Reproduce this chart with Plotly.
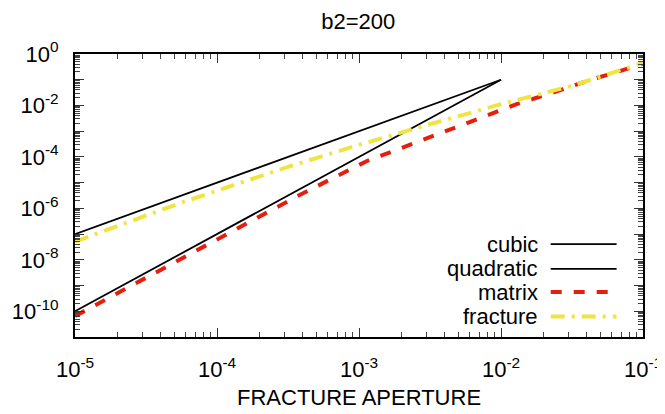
import plotly.graph_objects as go

# log-log curves, b2=200
cubic_x = [1e-5, 1e-2]
cubic_y = [1e-7, 1e-1]

quad_x = [1e-5, 1e-2]
quad_y = [1e-10, 1e-1]

matrix_x = [1e-5, 5.96e-5, 3.85e-4, 1.13e-3, 3.93e-3, 8.83e-3, 1.29e-2, 2.75e-2, 4.24e-2, 6.18e-2, 1e-1]
matrix_y = [6.5e-11, 1.38e-8, 3.4e-6, 6.8e-5, 9.3e-4, 5.2e-3, 1.12e-2, 4.3e-2, 9.8e-2, 1.8e-1, 4.2e-1]

fracture_x = [1e-5, 5.6e-5, 3.2e-4, 1e-3, 3.2e-3, 1e-2, 3.2e-2, 1e-1]
fracture_y = [5.1e-8, 1.66e-6, 4.2e-5, 2.95e-4, 1.9e-3, 1.12e-2, 5.9e-2, 4.5e-1]

x_ticks = [1e-5, 1e-4, 1e-3, 1e-2, 1e-1]
x_labels = ["10<sup>-5</sup>", "10<sup>-4</sup>", "10<sup>-3</sup>", "10<sup>-2</sup>", "10<sup>-1</sup>"]
y_ticks = [10.0**-k for k in range(0, 12)]
y_labels = ["10<sup>%d</sup>" % -k if k % 2 == 0 else "" for k in range(0, 12)]
y_labels[0] = "10<sup>0</sup>"

RED = "#e51e10"
YEL = "#f0e442"
FONT = "Liberation Sans, Arial, Helvetica, sans-serif"

series = [
    ("cubic", cubic_x, cubic_y, dict(color="black", width=1.8)),
    ("quadratic", quad_x, quad_y, dict(color="black", width=1.8)),
    ("matrix", matrix_x, matrix_y, dict(color=RED, width=4, dash="11px,12px")),
    ("fracture", fracture_x, fracture_y, dict(color=YEL, width=4, dash="14px,7px,3px,7px")),
]

fig = go.Figure()
for name, xs, ys, ln in series:
    fig.add_trace(go.Scatter(x=xs, y=ys, mode="lines", name=name, line=ln, showlegend=False))

# gnuplot style key: text on the left, sample line on the right
key_y = [0.328, 0.241, 0.159, 0.072]
for (name, xs, ys, ln), ky in zip(series, key_y):
    fig.add_annotation(x=0.8187, y=ky, xref="paper", yref="paper", text=name,
                       showarrow=False, xanchor="right", yanchor="middle",
                       font=dict(size=22, color="black", family=FONT))
    fig.add_shape(type="line", xref="paper", yref="paper", x0=0.8375, x1=0.9535,
                  y0=ky, y1=ky, line=ln)

fig.add_annotation(x=0.5, y=-0.215, xref="paper", yref="paper", text="FRACTURE APERTURE",
                   showarrow=False, xanchor="center", yanchor="middle",
                   font=dict(size=22, color="black", family=FONT))

axis_common = dict(
    type="log", showgrid=False, zeroline=False, showline=True, linecolor="black",
    linewidth=2, mirror="allticks", ticks="inside", ticklen=9, tickwidth=1,
    tickcolor="#333333", tickfont=dict(size=22, color="black", family=FONT),
    minor=dict(ticks="inside", ticklen=5, tickcolor="#444444", dtick="D1", showgrid=False),
    automargin=False,
)

fig.update_xaxes(range=[-5, -1], tickvals=x_ticks, ticktext=x_labels,
                 ticklabelstandoff=12, **axis_common)
fig.update_yaxes(range=[-11, 0], tickvals=y_ticks, ticktext=y_labels,
                 ticklabelstandoff=10, **axis_common)

# page body has an 8px margin, so the figure is sized to fit inside the window
fig.update_layout(
    width=657, height=406,
    margin=dict(l=67, r=22, t=46, b=77),
    paper_bgcolor="white", plot_bgcolor="white",
    title=dict(text="b2=200", x=0.533, xanchor="center", y=0.968, yanchor="middle",
               font=dict(size=22, color="black", family=FONT)),
    font=dict(family=FONT, color="black"),
)

fig.write_html("out.html")
